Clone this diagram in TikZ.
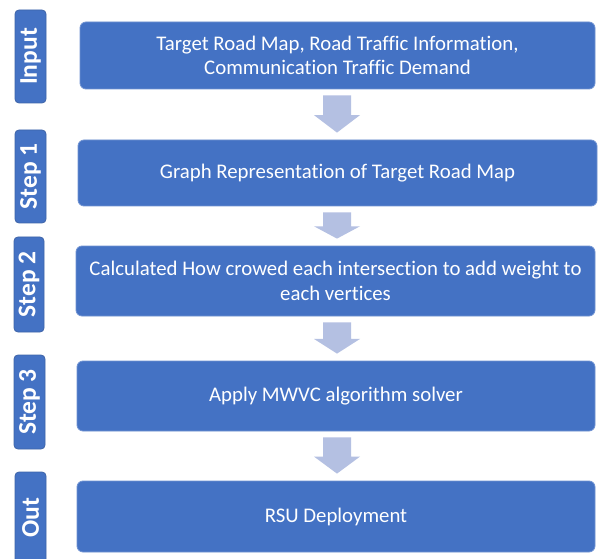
\documentclass[tikz,border=0pt]{standalone}
\usepackage{fontspec}
\setmainfont{Carlito}[Ligatures=NoCommon]
\usetikzlibrary{calc}
\definecolor{boxblue}{HTML}{4472C4}
\definecolor{boxedge}{HTML}{7093D2}
\definecolor{labedge}{HTML}{3E64A8}
\definecolor{arrowc}{HTML}{B4C0E2}
\tikzset{
  mainbox/.style={draw=boxedge, line width=0.8pt, fill=boxblue, rounded corners=6pt,
    text=white, align=center, font=\fontsize{20.8}{24.5}\selectfont, inner sep=0pt},
  labbox/.style={draw=labedge, line width=0.8pt, fill=boxblue, rounded corners=4pt,
    text=white, font=\fontsize{25.5}{28}\selectfont\bfseries, inner sep=0pt},
}
\newcommand{\blockarrow}[2]{%
  \coordinate (aa) at ($(#1.south -| ax)+(0,6)$);
  \coordinate (tt) at ($(#2.north -| ax)+(0,-7)$);
  \coordinate (hh) at ($(aa)!0.53!(tt)$);
  \fill[arrowc] ($(aa)+(-14,0)$) -- ($(aa)+(14,0)$) -- ($(hh)+(14,0)$) -- ($(hh)+(23,0)$)
    -- (tt) -- ($(hh)+(-23,0)$) -- ($(hh)+(-14,0)$) -- cycle;
}
\begin{document}
\begin{tikzpicture}[x=1pt,y=-1pt]
\useasboundingbox (0,0) rectangle (603,559);
\clip (0,0) rectangle (603,559);
\fill[white] (0,0) rectangle (603,559);
\coordinate (ax) at (337,0);
% main boxes
\node[mainbox, minimum width=515, minimum height=67] (b1) at (337.5,55.5)
  {Target Road Map, Road Traffic Information,\\Communication Traffic Demand};
\node[mainbox, minimum width=519, minimum height=66] (b2) at (337.5,173)
  {Graph Representation of Target Road Map};
\node[mainbox, minimum width=519, minimum height=70] (b3) at (335.5,281)
  {Calculated How crowed each intersection to add weight to\\each vertices};
\node[mainbox, minimum width=518, minimum height=70] (b4) at (336,396)
  {Apply MWVC algorithm solver};
\node[mainbox, minimum width=518, minimum height=71] (b5) at (336,516.5)
  {RSU Deployment};
% labels
\node[labbox, minimum width=93, minimum height=31, rotate=90] (l1) at (30.5,56.5) {Input};
\node[labbox, minimum width=93, minimum height=31, rotate=90] (l2) at (30.5,176.5) {Step 1};
\node[labbox, minimum width=95, minimum height=30, rotate=90] (l3) at (29,284.5) {Step 2};
\node[labbox, minimum width=94, minimum height=31, rotate=90] (l4) at (29.5,402) {Step 3};
\node[labbox, minimum width=92, minimum height=31, rotate=90] (l5) at (30.5,518) {Out};
% arrows
\blockarrow{b1}{b2}
\blockarrow{b2}{b3}
\blockarrow{b3}{b4}
\blockarrow{b4}{b5}
\end{tikzpicture}
\end{document}
